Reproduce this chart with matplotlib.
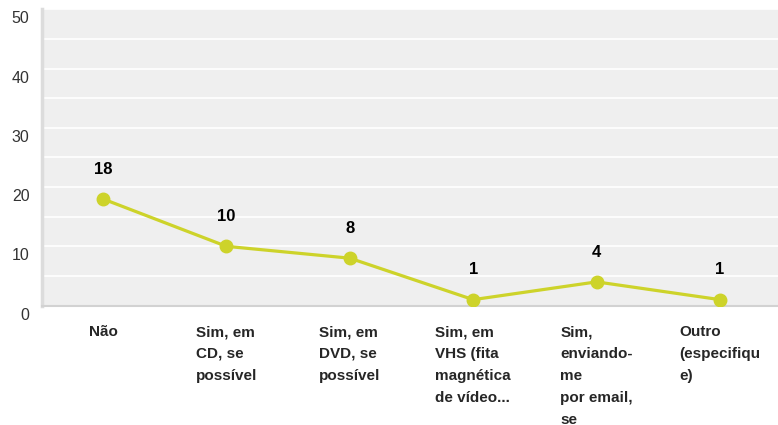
import matplotlib.pyplot as plt
from matplotlib.transforms import ScaledTranslation

# dados
categorias = ["Não",
              "Sim, em\nCD, se\npossível",
              "Sim, em\nDVD, se\npossível",
              "Sim, em\nVHS (fita\nmagnética\nde vídeo...",
              "Sim,\nenviando-\nme\npor email,\nse",
              "Outro\n(especifiqu\ne)"]
valores = [18, 10, 8, 1, 4, 1]
yticks = [0, 10, 20, 30, 40, 50]

plt.rcParams['font.family'] = ['Liberation Sans', 'DejaVu Sans']

fig = plt.figure(figsize=(7.78, 4.25), dpi=100)
ax = fig.add_axes([0.054, 0.281, 0.946, 0.697])
ax.set_facecolor('#efefef')

x = list(range(len(valores)))
ax.plot(x, valores, color='#cdd32a', lw=2.3, marker='o', ms=9, zorder=3)
for xi, v in zip(x, valores):
    ax.annotate(str(v), (xi, v), xytext=(0, 21.5), textcoords='offset points',
                ha='center', va='center', fontsize=12, fontweight='bold', color='black')

ax.set_xlim(-0.494, 5.47)
ax.set_ylim(0, 50)
ax.set_axisbelow(True)
ax.set_yticks(yticks)
ax.set_yticks(range(5, 50, 10), minor=True)
ax.yaxis.grid(True, which='both', color='white', lw=1.2)
ax.set_yticklabels([str(t) for t in yticks], fontsize=11.5, color='#333333')
ax.tick_params(axis='y', which='both', length=0, pad=9)
for lab in ax.get_yticklabels():
    lab.set_transform(lab.get_transform() + ScaledTranslation(0, -0.08, fig.dpi_scale_trans))

ax.set_xticks(x)
ax.set_xticklabels(categorias, fontsize=11, fontweight='bold', color='#262626',
                   multialignment='left', linespacing=1.72, va='top')
ax.tick_params(axis='x', length=0, pad=14)

for s in ['top', 'right']:
    ax.spines[s].set_visible(False)
ax.spines['left'].set_color('#dcdcdc')
ax.spines['left'].set_linewidth(2.5)
ax.spines['bottom'].set_color('#d2d2d2')
ax.spines['bottom'].set_linewidth(1.5)

fig.savefig('out.png', dpi=100)
